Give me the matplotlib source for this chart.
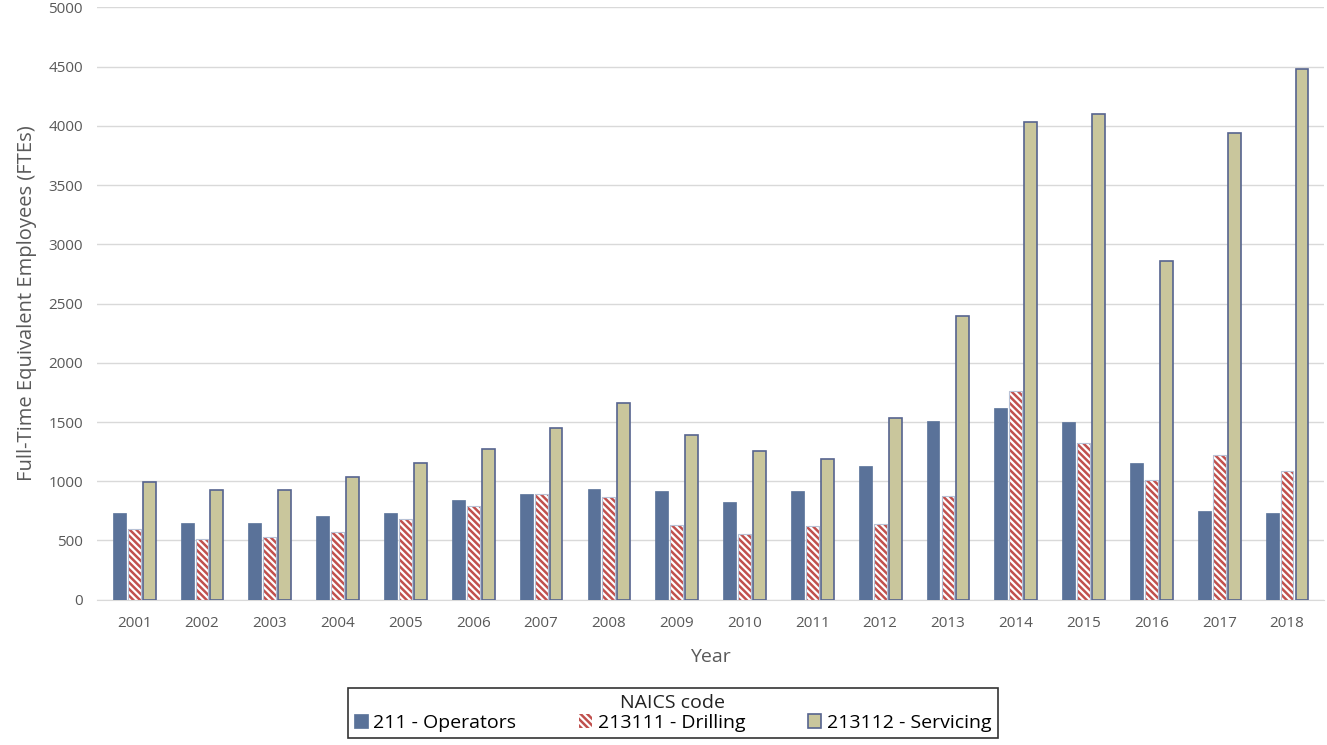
import numpy as np
import matplotlib.pyplot as plt

plt.rcParams['font.family'] = ['Open Sans', 'DejaVu Sans']
plt.rcParams['hatch.linewidth'] = 1.8

# Data
years = ['2001', '2002', '2003', '2004', '2005', '2006', '2007', '2008', '2009',
         '2010', '2011', '2012', '2013', '2014', '2015', '2016', '2017', '2018']
operators = [735, 650, 650, 709, 735, 845, 895, 937, 920,
             828, 920, 1132, 1512, 1617, 1500, 1156, 745, 731]
drilling = [600, 515, 532, 574, 684, 794, 895, 870, 633,
            557, 625, 642, 878, 1760, 1326, 1009, 1219, 1085]
servicing = [997, 929, 929, 1039, 1157, 1275, 1453, 1664, 1394,
             1258, 1191, 1537, 2399, 4031, 4098, 2862, 3938, 4482]

x = np.arange(len(years))
w = 0.19
off = 0.22

fig = plt.figure(figsize=(13.27, 7.45), dpi=100)
ax = fig.add_axes([0.073, 0.195, 0.925, 0.795])

ax.bar(x - off, operators, w, color='#5A7299', edgecolor='#5A7299', linewidth=0.5,
       label='211 - Operators', zorder=3)
ax.bar(x, drilling, w, color='white', edgecolor='#C0504D', hatch='\\\\\\\\\\',
       linewidth=0, label='213111 - Drilling', zorder=3)
ax.bar(x, drilling, w, color='none', edgecolor='#B8C2D6', linewidth=0.8, zorder=4)
ax.bar(x + off, servicing, w, color='#C9C69C', edgecolor='#56648F', linewidth=1.2,
       label='213112 - Servicing', zorder=3)

ax.set_ylim(0, 5000)
ax.set_xlim(-0.55, len(years) - 0.45)
ax.set_yticks(np.arange(0, 5001, 500))
ax.set_xticks(x)
ax.set_xticklabels(years)
ax.tick_params(length=0, labelsize=11, colors='#595959')
ax.tick_params(axis='x', pad=12)
ax.tick_params(axis='y', pad=10)
ax.grid(axis='y', color='#D9D9D9', linewidth=1, zorder=0)
for s in ['top', 'right', 'left']:
    ax.spines[s].set_visible(False)
ax.spines['bottom'].set_color('#D9D9D9')

ax.set_ylabel('Full-Time Equivalent Employees (FTEs)', fontsize=14.5, color='#595959',
              labelpad=8)
ax.set_xlabel('Year', fontsize=14, color='#595959', labelpad=12)

leg = fig.legend(loc='center', bbox_to_anchor=(0.507, 0.043), ncol=3,
                 title='NAICS code', fontsize=14, title_fontsize=14,
                 frameon=True, fancybox=False, edgecolor='black',
                 handlelength=0.7, handleheight=0.7, handletextpad=0.3,
                 columnspacing=3.2, borderpad=0.3, borderaxespad=0,
                 labelspacing=0.1)
leg.get_frame().set_linewidth(1.2)
leg.get_title().set_color('#222222')

fig.savefig('out.png', dpi=100)
